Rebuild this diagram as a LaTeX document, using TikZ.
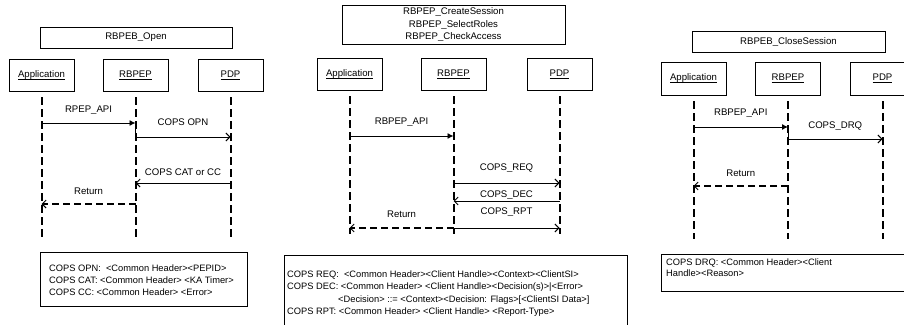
\documentclass[tikz,border=0pt]{standalone}
\usepackage{fontspec}
\setmainfont{Liberation Sans}
\usetikzlibrary{arrows.meta}
\newcommand{\uname}[1]{\underline{\raisebox{0pt}[\height][0pt]{#1}}}

\begin{document}
\begin{tikzpicture}[x=1pt, y=-1pt, font=\fontsize{9.6}{12}\selectfont,
		box/.style={draw, line width=0.8pt, fill=white, inner sep=0pt, outer sep=0pt},
		actor/.style={box, minimum width=65pt, minimum height=32pt},
		life/.style={line width=2pt, dash pattern=on 8pt off 4pt},
		call/.style={line width=0.9pt, -{Latex[length=6pt,width=6pt]}},
		msg/.style={line width=0.9pt, -{Straight Barb[length=4pt,width=8pt]}},
		ret/.style={line width=2pt, dash pattern=on 7pt off 4pt, -{Straight Barb[length=4pt,width=8pt,line width=0.9pt]}},
		lbl/.style={inner sep=1pt},
		note/.style={box, anchor=north west},
		notetxt/.style={anchor=north west, align=left, inner sep=0pt, font=\fontsize{9.3}{12}\selectfont}]
		\useasboundingbox (0,0) rectangle (904,324);
		% RBPEB_Open
		\node[box, minimum width=192pt, minimum height=21pt] (open) at (136,37.5) {RBPEB\_Open};
		\node[actor] (app1) at (41.5,75) {\uname{Application}};
		\node[actor] (rb1) at (135.5,75) {\uname{RBPEP}};
		\node[actor] (pdp1) at (230.5,75) {\uname{PDP}};
		\foreach \a in {app1,rb1,pdp1}{
			\draw[life] ([yshift=-6pt]\a.south) -- (\a |- 0,237);
		}
		\draw[call] (app1 |- 0,123) -- node[lbl, above=7.5pt] (m11) {RPEP\_API} (rb1 |- 0,123);
		\draw[msg] (rb1 |- 0,123) -- (rb1 |- 0,137) -- node[lbl, above=9.5pt] (m12) {COPS OPN} (pdp1 |- 0,137);
		\draw[msg] (pdp1 |- 0,183) -- node[lbl, above=5.5pt] (m13) {COPS CAT or CC} (rb1 |- 0,183);
		\draw[ret] (rb1 |- 0,204) -- node[lbl, above=7.5pt] (m14) {Return} (app1 |- 0,204);
		\node[note, minimum width=207pt, minimum height=54pt] (n1) at (40,252) {};
		\node[notetxt] (n1t) at (49,264.5) {COPS OPN:\ \ <Common Header><PEPID>\\
			COPS CAT: <Common Header> <KA Timer>\\
			COPS CC: <Common Header> <Error>};
		% create session / select roles / check access
		\node[box, minimum width=223pt, minimum height=39pt, align=center,
			font=\fontsize{9.6}{12.5}\selectfont] (sess) at (453.5,24.5)
			{RBPEP\_CreateSession\\RBPEP\_SelectRoles\\RBPEP\_CheckAccess};
		\node[actor] (app2) at (349.5,74) {\uname{Application}};
		\node[actor] (rb2) at (453.5,74) {\uname{RBPEP}};
		\node[actor] (pdp2) at (559.5,74) {\uname{PDP}};
		\foreach \a in {app2,rb2,pdp2}{
			\draw[life] ([yshift=-6pt]\a.south) -- (\a |- 0,234);
		}
		\draw[call] (app2 |- 0,136) -- node[lbl, above=8.5pt] (m21) {RBPEP\_API} (rb2 |- 0,136);
		\draw[msg] (rb2 |- 0,183) -- node[lbl, above=9.5pt] (m22) {COPS\_REQ} (pdp2 |- 0,183);
		\draw[msg] (pdp2 |- 0,201) -- node[lbl, above=0.5pt] (m23) {COPS\_DEC} (rb2 |- 0,201);
		\draw[msg] (rb2 |- 0,228) -- node[lbl, above=10.5pt] (m24) {COPS\_RPT} (pdp2 |- 0,228);
		\draw[ret] (rb2 |- 0,228) -- node[lbl, above=8.5pt] (m25) {Return} (app2 |- 0,228);
		\node[note, minimum width=343pt, minimum height=80pt] (n2) at (284,255) {};
		\node[notetxt, font=\fontsize{9.3}{12.3}\selectfont] (n2t) at (287,270.5) {COPS REQ:\ \ <Common Header><Client Handle><Context><ClientSI>\\
			COPS DEC: <Common Header> <Client Handle><Decision(s)>|<Error>\\
			\hspace*{51pt}<Decision> ::= <Context><Decision: Flags>[<ClientSI Data>]\\
			COPS RPT: <Common Header> <Client Handle> <Report-Type>};
		% RBPEB_CloseSession
		\node[box, minimum width=193pt, minimum height=21pt] (close) at (788.5,41.5) {RBPEB\_CloseSession};
		\node[actor, minimum height=33pt] (app3) at (693.5,78.5) {\uname{Application}};
		\node[actor, minimum height=33pt] (rb3) at (788,78.5) {\uname{RBPEP}};
		\node[actor, minimum height=33pt] (pdp3) at (882.5,78.5) {\uname{PDP}};
		\foreach \a in {app3,rb3,pdp3}{
			\draw[life] ([yshift=-6pt]\a.south) -- (\a |- 0,239);
		}
		\draw[call] (app3 |- 0,127) -- node[lbl, above=8.5pt] (m31) {RBPEP\_API} (rb3 |- 0,127);
		\draw[msg] (rb3 |- 0,127) -- (rb3 |- 0,139) -- node[lbl, above=7.5pt] (m32) {COPS\_DRQ} (pdp3 |- 0,139);
		\draw[ret] (rb3 |- 0,186) -- node[lbl, above=7.5pt] (m33) {Return} (app3 |- 0,186);
		\node[note, minimum width=250pt, minimum height=37pt] (n3) at (661,254) {};
		\node[notetxt, font=\fontsize{9.3}{11}\selectfont] (n3t) at (666,258.5) {COPS DRQ: <Common Header><Client\\
			Handle><Reason>};
	\end{tikzpicture}
\end{document}
